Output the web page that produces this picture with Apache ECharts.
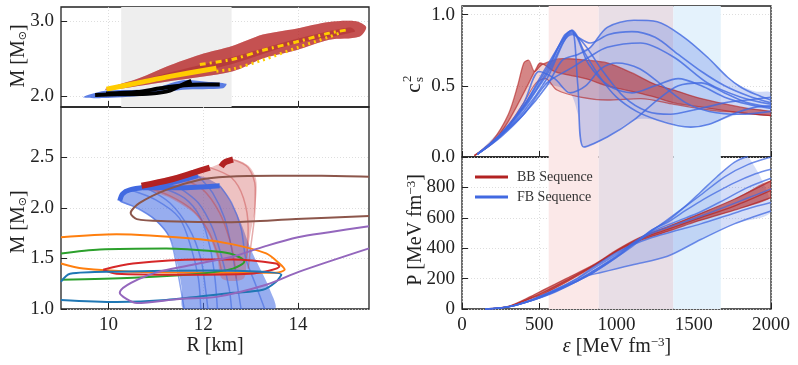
<!DOCTYPE html>
<html>
<head>
<meta charset="utf-8">
<script src="https://cdn.jsdelivr.net/npm/echarts@6/dist/echarts.min.js"></script>
<style>html,body{margin:0;padding:0;background:#fff}#c{width:798px;height:365px}</style>
</head>
<body>
<div id="c"></div>
<script>
var font = "Liberation Serif";
var red = "#b22222", blue = "#4169e1";

// ---- top left: M-R posterior
var grayBandR = [10.27, 12.6];
var bbBand = [[9.93,2.09],[10.66,2.24],[11.22,2.39],[11.93,2.55],[12.63,2.67],[13.26,2.82],[13.96,2.9],[14.66,2.99],[15.22,3.0],[15.44,2.92],[15.29,2.79],[14.66,2.75],[13.96,2.61],[13.26,2.5],[12.63,2.33],[11.22,2.19],[10.03,2.08]];
var bbCore = [[10.0,2.09],[11.22,2.3],[12.63,2.52],[13.96,2.76],[15.1,2.92],[15.2,2.86],[13.96,2.7],[12.63,2.43],[11.22,2.22]];
var yellowSolid = [[9.96,2.09],[10.6,2.17],[11.3,2.26],[12.28,2.37]];
var yellowDash = [[11.93,2.42],[12.63,2.49],[13.26,2.61],[13.96,2.72],[14.66,2.84],[15.01,2.88]];
var yellowDot = [[12.28,2.33],[12.63,2.36],[13.26,2.48],[13.96,2.64],[14.66,2.79],[14.87,2.84]];
var fbBand = [[9.47,1.98],[9.96,2.07],[10.87,2.09],[11.57,2.21],[12.07,2.19],[12.49,2.16],[12.42,2.1],[11.57,2.08],[10.87,2.01],[9.96,1.97]];
var black1 = [[9.72,2.01],[10.2,2.02],[10.9,2.03],[11.3,2.07],[11.6,2.16],[11.75,2.2]];
var black2 = [[9.95,2.03],[10.6,2.05],[11.1,2.1],[11.6,2.14],[12.0,2.15],[12.35,2.15]];

// ---- bottom left: M-R curves and contours
var fbFan = [[10.24,2.07],[10.6,2.0],[11.0,1.87],[11.3,1.7],[11.45,1.45],[11.55,1.2],[11.6,1.0],[13.5,1.0],[13.4,1.2],[13.2,1.4],[13.0,1.6],[12.8,1.85],[12.6,2.05],[12.35,2.22],[11.9,2.32],[11.3,2.27],[10.45,2.18]];
var bbFan = [[10.7,2.22],[11.3,2.1],[11.8,1.95],[12.1,1.75],[12.3,1.5],[12.4,1.3],[12.85,1.3],[12.92,1.5],[13.0,1.75],[13.1,2.0],[13.12,2.28],[12.95,2.42],[12.63,2.48],[12.14,2.4]];
var fbCurves = [
  [[10.24,2.07],[10.6,2.0],[11.0,1.88],[11.3,1.7],[11.45,1.4],[11.6,1.0]],
  [[10.45,2.18],[11.0,2.08],[11.5,1.9],[11.75,1.6],[11.9,1.3],[11.95,1.0]],
  [[11.0,2.22],[11.6,2.1],[11.95,1.9],[12.15,1.6],[12.25,1.3],[12.3,1.0]],
  [[11.89,2.32],[12.2,2.15],[12.45,1.9],[12.6,1.6],[12.7,1.3],[12.8,1.0]],
  [[12.35,2.22],[12.6,2.05],[12.8,1.8],[12.9,1.5],[13.1,1.25],[13.3,1.0]],
  [[11.5,2.2],[11.9,2.05],[12.2,1.8],[12.4,1.5],[12.55,1.2],[12.6,1.0]],
  [[10.8,2.2],[11.3,2.05],[11.7,1.8],[11.95,1.5],[12.05,1.2],[12.1,1.0]]
];
var bbCurves = [
  [[10.7,2.22],[11.3,2.12],[11.8,1.97],[12.1,1.78],[12.3,1.55],[12.4,1.35]],
  [[11.5,2.3],[12.0,2.18],[12.35,1.95],[12.55,1.7],[12.65,1.5],[12.7,1.3]],
  [[12.14,2.4],[12.6,2.3],[12.85,2.1],[12.95,1.8],[12.92,1.5]],
  [[12.63,2.48],[12.95,2.4],[13.1,2.2],[13.08,1.9],[13.0,1.6],[12.95,1.4]]
];
var bbTip1 = [[10.7,2.22],[11.3,2.28],[11.8,2.35],[12.14,2.4]];
var bbTip2 = [[12.38,2.41],[12.45,2.45],[12.63,2.48]];
var fbTip1 = [[10.24,2.07],[10.3,2.14],[10.45,2.18],[11.0,2.22],[11.5,2.27],[11.89,2.32]];
var fbTip2 = [[10.73,2.2],[11.5,2.2],[12.35,2.22]];
var brownC = [[15.5,2.31],[14.5,2.32],[13.5,2.32],[12.5,2.31],[11.93,2.28],[11.22,2.18],[10.66,2.05],[10.47,1.95],[10.6,1.89],[11.22,1.87],[12.6,1.86],[13.96,1.89],[15.5,1.92]];
var orangeC = [[9.0,1.71],[10.17,1.74],[11.93,1.69],[12.63,1.64],[13.33,1.55],[13.61,1.45],[13.72,1.39],[13.54,1.36],[12.63,1.36],[10.52,1.37],[9.47,1.4],[9.0,1.45]];
var greenC = [[9.0,1.55],[9.82,1.59],[11.22,1.6],[12.28,1.57],[12.63,1.54],[12.87,1.47],[12.63,1.4],[11.93,1.35],[10.52,1.31],[9.0,1.29]];
var redC = [[9.89,1.39],[10.52,1.45],[11.93,1.49],[12.63,1.49],[13.54,1.45],[13.61,1.42],[12.98,1.35],[11.57,1.34],[10.17,1.35],[9.89,1.39]];
var blueC = [[9.0,1.27],[9.19,1.35],[10.17,1.37],[12.28,1.38],[13.65,1.34],[13.54,1.27],[13.26,1.19],[12.63,1.16],[11.22,1.09],[10.17,1.07],[9.0,1.09]];
var purpleC = [[15.5,1.82],[14.66,1.76],[14.0,1.71],[13.3,1.62],[12.63,1.52],[11.8,1.44],[10.87,1.34],[10.24,1.16],[10.38,1.1],[10.6,1.06],[11.5,1.1],[12.28,1.12],[13.33,1.24],[14.03,1.37],[15.5,1.6]];

// ---- right: bands in energy density
var bandPink = [561, 885], bandMauve = [885, 1368], bandBlue = [1368, 1675];

// ---- top right: c_s^2
var csRed = [
  [[80,0.01],[200,0.12],[300,0.3],[360,0.5],[400,0.66],[430,0.68],[470,0.6],[520,0.65],[650,0.69],[800,0.68],[940,0.66],[1100,0.59],[1250,0.51],[1372,0.47],[1550,0.41],[1805,0.35],[2000,0.32]],
  [[80,0.01],[200,0.1],[300,0.25],[400,0.45],[480,0.62],[506,0.66],[600,0.6],[800,0.55],[940,0.5],[1100,0.46],[1250,0.42],[1372,0.38],[1550,0.35],[1805,0.31],[2000,0.29]],
  [[80,0.01],[200,0.1],[300,0.22],[400,0.38],[480,0.52],[540,0.55],[615,0.47],[766,0.42],[940,0.4],[1156,0.41],[1372,0.37],[1600,0.33],[1805,0.31],[2000,0.29]]
];
var csBlue = [
  [[100,0.02],[250,0.15],[400,0.3],[550,0.5],[650,0.68],[750,0.72],[831,0.77],[940,0.91],[1113,0.96],[1264,0.95],[1437,0.84],[1589,0.7],[1719,0.56],[1805,0.49],[1900,0.44],[2000,0.4]],
  [[100,0.02],[250,0.16],[400,0.35],[550,0.6],[660,0.85],[712,0.89],[750,0.5],[788,0.07],[940,0.14],[1113,0.26],[1264,0.4],[1400,0.5],[1550,0.52],[1700,0.45],[1850,0.38],[2000,0.35]],
  [[100,0.02],[250,0.16],[400,0.36],[550,0.62],[712,0.89],[800,0.72],[900,0.55],[1000,0.42],[1130,0.32],[1264,0.26],[1400,0.22],[1481,0.21],[1600,0.23],[1750,0.3],[1900,0.35],[2000,0.36]],
  [[100,0.02],[250,0.14],[400,0.3],[550,0.52],[700,0.62],[820,0.7],[940,0.77],[1156,0.8],[1372,0.7],[1589,0.52],[1805,0.42],[2000,0.37]],
  [[100,0.02],[250,0.16],[400,0.36],[550,0.64],[712,0.88],[820,0.65],[950,0.5],[1100,0.45],[1250,0.5],[1400,0.55],[1550,0.5],[1700,0.42],[1850,0.37],[2000,0.34]],
  [[100,0.02],[250,0.15],[400,0.38],[500,0.6],[600,0.55],[700,0.45],[800,0.5],[900,0.62],[1000,0.66],[1150,0.62],[1300,0.5],[1450,0.38],[1600,0.32],[1800,0.3],[2000,0.32]],
  [[100,0.02],[250,0.15],[400,0.32],[550,0.55],[712,0.87],[800,0.78],[900,0.62],[1050,0.42],[1200,0.32],[1350,0.3],[1500,0.33],[1700,0.38],[1850,0.4],[2000,0.42]],
  [[100,0.02],[250,0.15],[400,0.34],[550,0.58],[712,0.86],[830,0.8],[950,0.86],[1100,0.88],[1250,0.84],[1400,0.72],[1550,0.6],[1700,0.5],[1850,0.43],[2000,0.38]]
];
var csBlueHull = [[100,0.02],[400,0.36],[550,0.64],[660,0.85],[712,0.89],[780,0.76],[831,0.77],[940,0.91],[1113,0.96],[1264,0.95],[1437,0.84],[1589,0.7],[1719,0.56],[1805,0.5],[1900,0.46],[2000,0.45],[2000,0.3],[1800,0.3],[1600,0.23],[1481,0.21],[1264,0.26],[1113,0.26],[940,0.14],[788,0.07],[750,0.3],[700,0.45],[600,0.5],[500,0.5],[400,0.3],[250,0.14]];

// ---- bottom right: pressure
var pRed = [
  [[150,0],[300,18],[450,85],[528,126],[680,203],[850,290],[1006,391],[1150,470],[1329,540],[1500,610],[1762,722],[2000,843]],
  [[150,0],[300,16],[450,75],[528,110],[680,190],[850,285],[1006,385],[1150,460],[1329,523],[1500,585],[1762,677],[2000,780]],
  [[150,0],[300,15],[450,70],[528,100],[680,180],[850,280],[1006,380],[1150,450],[1329,510],[1500,570],[1762,650],[2000,733]]
];
var pBlue = [
  [[150,0],[300,14],[450,55],[600,115],[750,185],[850,240],[1000,340],[1100,410],[1230,520],[1330,580],[1450,680],[1545,770],[1650,870],[1762,965],[1850,1005]],
  [[150,0],[300,14],[450,58],[600,120],[750,190],[850,250],[1000,345],[1100,420],[1230,515],[1400,640],[1545,750],[1700,870],[1850,950],[2000,1000]],
  [[150,0],[300,14],[450,55],[600,115],[750,185],[850,240],[1000,340],[1100,420],[1230,520],[1330,570],[1450,650],[1545,710],[1650,770],[1762,830],[1900,890],[2000,920]],
  [[150,0],[300,14],[450,58],[600,120],[750,190],[850,250],[1000,350],[1100,430],[1230,510],[1400,580],[1545,640],[1700,720],[1850,800],[2000,860]],
  [[150,0],[300,15],[450,60],[600,125],[750,200],[850,265],[1000,360],[1100,425],[1230,500],[1400,560],[1545,610],[1700,670],[1850,730],[2000,790]],
  [[150,0],[300,15],[450,60],[600,125],[750,205],[850,275],[1000,370],[1100,420],[1230,470],[1400,520],[1545,560],[1700,610],[1850,660],[2000,700]],
  [[150,0],[300,14],[450,55],[600,110],[750,185],[800,215],[900,240],[1000,265],[1100,290],[1330,347],[1545,457],[1762,560],[2000,645]]
];

// ticks
var rTicks = [10, 12, 14];
var mTopTicks = [2, 3];
var mBotTicks = [1, 1.5, 2, 2.5];
var eTicks = [0, 500, 1000, 1500, 2000];
var csTicks = [0, 0.5, 1];
var pTicks = [0, 200, 400, 600, 800];

function ln(g, data, color, width, opacity, extra) {
  return Object.assign({type: "line", xAxisIndex: g, yAxisIndex: g, data: data, showSymbol: false, symbol: "none",
    smooth: 0.3, silent: true, z: 3, color: color,
    lineStyle: {color: color, width: width, opacity: opacity}}, extra || {});
}
function poly(g, pts, fill, extra) {
  return Object.assign({type: "custom", xAxisIndex: g, yAxisIndex: g, silent: true, z: 2, data: [pts[0]],
    renderItem: function (params, api) {
      var cs = params.coordSys;
      return {type: "polygon", shape: {points: pts.map(function (p) { return api.coord(p); }), smooth: 0.3},
        style: {fill: fill},
        clipPath: {type: "rect", shape: {x: cs.x, y: cs.y, width: cs.width, height: cs.height}}};
    }}, extra || {});
}
function rev(a) { return a.slice().reverse(); }

function axis(g, min, max, vals, showLabel, fmt) {
  return {type: "value", gridIndex: g, min: min, max: max,
    axisLine: {show: false},
    axisTick: {show: true, inside: true, length: 6, customValues: vals, lineStyle: {color: "#222", width: 1}},
    axisLabel: {show: showLabel, customValues: vals, margin: 7, color: "#222", fontFamily: font, fontSize: 19,
      formatter: fmt || function (v) { return String(v); }},
    splitLine: {show: true, lineStyle: {color: "#d6d6d6", width: 0.8, type: [1, 2]}}};
}
var f1 = function (v) { return v.toFixed(1); };

var series = [];
// top-left
series.push(poly(0, bbBand, "rgba(190,45,45,0.6)", {z: 1, markArea: {silent: true, itemStyle: {color: "#eeeeee"},
  data: [[{xAxis: grayBandR[0]}, {xAxis: grayBandR[1]}]]}}));
series.push(poly(0, bbBand, "rgba(178,34,34,0.5)", {z: 2}));
series.push(poly(0, bbCore, "rgba(160,25,25,0.35)", {z: 2}));
series.push(ln(0, yellowSolid, "#ffcc00", 5, 1, {z: 4}));
series.push(ln(0, yellowDash, "#ffcc00", 3, 1, {z: 4, lineStyle: {color: "#ffcc00", width: 3, type: [6, 4, 2, 4]}}));
series.push(ln(0, yellowDot, "#ffcc00", 3, 1, {z: 4, lineStyle: {color: "#ffcc00", width: 3, type: [2, 4]}}));
series.push(poly(0, fbBand, "rgba(65,105,225,0.85)", {z: 2}));
series.push(ln(0, black1, "#000", 4, 1, {z: 4}));
series.push(ln(0, black2, "#000", 4, 1, {z: 4}));

// bottom-left
series.push(poly(1, fbFan, "rgba(65,105,225,0.55)"));
series.push(poly(1, bbFan, "rgba(205,80,80,0.35)"));
fbCurves.forEach(function (c) { series.push(ln(1, c, blue, 1.5, 0.6)); });
bbCurves.forEach(function (c) { series.push(ln(1, c, "#c84848", 1.5, 0.45)); });
series.push(ln(1, fbTip1, blue, 5, 1, {z: 4}));
series.push(ln(1, fbTip2, blue, 5, 1, {z: 4}));
series.push(ln(1, bbTip1, red, 6, 1, {z: 4}));
series.push(ln(1, bbTip2, red, 6, 1, {z: 4}));
[[brownC, "#8c564b"], [orangeC, "#ff7f0e"], [greenC, "#2ca02c"], [redC, "#d62728"], [blueC, "#1f77b4"], [purpleC, "#9467bd"]]
  .forEach(function (c) { series.push(ln(1, c[0], c[1], 2, 1, {z: 5})); });

// right bands
function bands(g) {
  return {z: 1, markArea: {silent: true, data: [
    [{xAxis: bandPink[0], itemStyle: {color: "#fbe8e8"}}, {xAxis: bandPink[1]}],
    [{xAxis: bandMauve[0], itemStyle: {color: "#e8dee6"}}, {xAxis: bandMauve[1]}],
    [{xAxis: bandBlue[0], itemStyle: {color: "#e4f2fc"}}, {xAxis: bandBlue[1]}]]}};
}
// top-right
series.push(poly(2, csBlueHull, "rgba(65,105,225,0.25)", bands(2)));
series.push(poly(2, csRed[0].concat(rev(csRed[1])), "rgba(178,34,34,0.55)"));
series.push(poly(2, csRed[1].concat(rev(csRed[2])), "rgba(178,34,34,0.18)"));
csRed.forEach(function (c) { series.push(ln(2, c, red, 1.3, 0.6)); });
csBlue.forEach(function (c) { series.push(ln(2, c, blue, 1.6, 0.8)); });

// bottom-right
series.push(poly(3, pBlue[0].concat(rev(pBlue[6])), "rgba(65,105,225,0.22)", bands(3)));
series.push(poly(3, pRed[0].concat(rev(pRed[2])), "rgba(178,34,34,0.6)"));
pRed.forEach(function (c, i) { series.push(ln(3, c, red, 1.3, 0.7, i === 0 ? {name: "BB Sequence"} : {})); });
pBlue.forEach(function (c, i) { series.push(ln(3, c, blue, 1.5, 0.75, i === 0 ? {name: "FB Sequence"} : {})); });

var chart = echarts.init(document.getElementById("c"));
var titleStyle = {fontFamily: font, fontSize: 20, fill: "#222", align: "center", verticalAlign: "middle"};
var rich = {
  sub: {fontFamily: "DejaVu Sans", fontSize: 11, fill: "#222", verticalAlign: "bottom", padding: [8, 0, 0, 0]},
  sup: {fontFamily: font, fontSize: 13, fill: "#222", verticalAlign: "top", padding: [0, 0, 8, 0]},
  it: {fontFamily: font, fontStyle: "italic", fontSize: 20, fill: "#222"}
};
function txt(x, y, text, rot) {
  return {type: "text", x: x, y: y, rotation: rot || 0,
    style: Object.assign({}, titleStyle, {text: text, rich: rich})};
}
chart.setOption({
  animation: false,
  textStyle: {fontFamily: font},
  grid: [
    {left: 61, top: 7, width: 308, height: 100, show: true, borderColor: "#222", borderWidth: 1.3},
    {left: 61, top: 107, width: 308, height: 202, show: true, borderColor: "#222", borderWidth: 1.3},
    {left: 462, top: 6, width: 309, height: 151, show: true, borderColor: "#222", borderWidth: 1.3},
    {left: 462, top: 157, width: 309, height: 152, show: true, borderColor: "#222", borderWidth: 1.3}
  ],
  xAxis: [
    axis(0, 9, 15.5, rTicks, false),
    axis(1, 9, 15.5, rTicks, true),
    axis(2, 0, 2000, eTicks, false),
    axis(3, 0, 2000, eTicks, true)
  ],
  yAxis: [
    axis(0, 1.85, 3.19, mTopTicks, true, f1),
    axis(1, 1, 3, mBotTicks, true, f1),
    axis(2, 0, 1.06, csTicks, true, f1),
    axis(3, 0, 1000, pTicks, true)
  ],
  legend: {left: 470, top: 165, orient: "vertical", icon: "rect", itemWidth: 33, itemHeight: 3, itemGap: 6,
    data: ["BB Sequence", "FB Sequence"],
    textStyle: {fontFamily: font, fontSize: 14, color: "#333", padding: [0, 0, 0, 4], lineHeight: 14}},
  graphic: [
    txt(19, 56, "M [M{sub|⊙}]", Math.PI / 2),
    txt(19, 222, "M [M{sub|⊙}]", Math.PI / 2),
    txt(215, 346, "R [km]"),
    txt(416, 230, "P [MeV fm{sup|−3}]", Math.PI / 2),
    txt(617, 347, "{it|ε} [MeV fm{sup|−3}]"),
    {type: "group", x: 414, y: 84, rotation: Math.PI / 2, children: [
      {type: "text", x: -4, y: 0, style: {text: "c", fontFamily: font, fontSize: 21, fill: "#222", align: "center", verticalAlign: "middle"}},
      {type: "text", x: 2, y: -6, style: {text: "2", fontFamily: font, fontSize: 13, fill: "#222", align: "left", verticalAlign: "middle"}},
      {type: "text", x: 2, y: 6, style: {text: "s", fontFamily: font, fontSize: 13, fill: "#222", align: "left", verticalAlign: "middle"}}
    ]}
  ],
  series: series
});
</script>
</body>
</html>
